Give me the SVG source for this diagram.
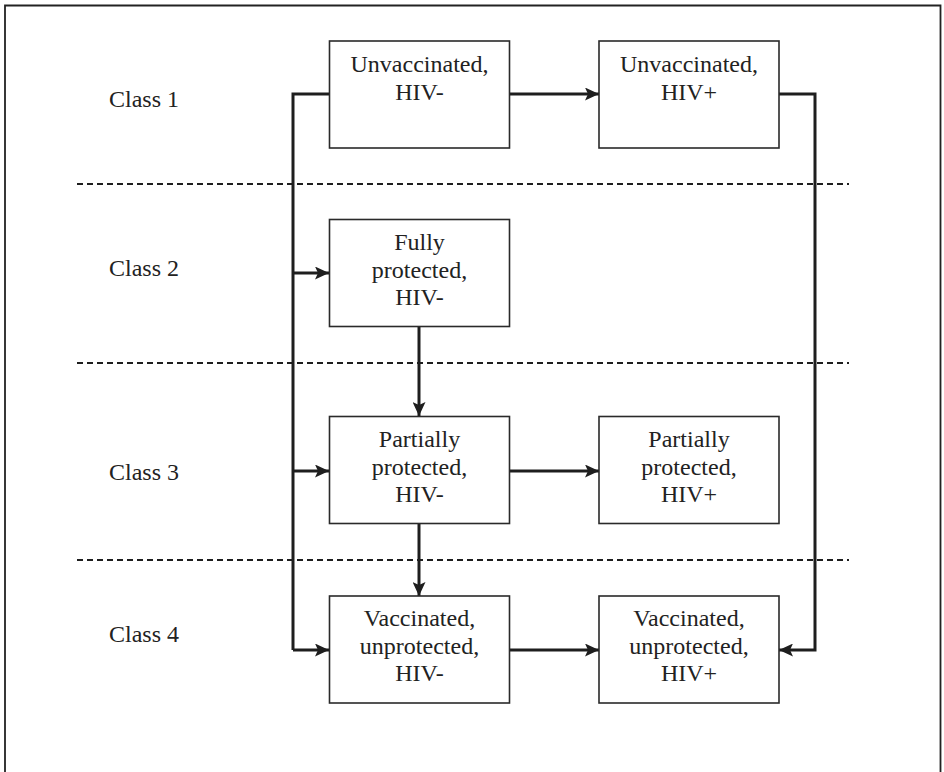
<svg xmlns="http://www.w3.org/2000/svg" width="944" height="772" viewBox="0 0 944 772">
<style>
.box{fill:#fff;stroke:#2a2a2a;stroke-width:1.6}
.t{font-family:"Liberation Serif","Times New Roman",serif;font-size:24px;fill:#222;text-anchor:middle}
.lbl{font-family:"Liberation Serif","Times New Roman",serif;font-size:24px;fill:#222}
.c{fill:none;stroke:#1e1e1e;stroke-width:3}
.d{fill:none;stroke:#1e1e1e;stroke-width:2;stroke-dasharray:6 4}
</style>
<defs>
<marker id="ah" markerUnits="userSpaceOnUse" markerWidth="14" markerHeight="13" viewBox="0 0 14 13" refX="14" refY="6.5" orient="auto">
<path d="M0,0 L14,6.5 L0,13 L3,6.5 z" fill="#1e1e1e"/>
</marker>
</defs>
<rect x="0" y="0" width="944" height="772" fill="#fff"/>
<path d="M5,780 V5.5 H940.5 V780" fill="none" stroke="#222" stroke-width="1.8"/>

<g id="dividers">
<line class="d" x1="77" y1="184" x2="849" y2="184"/>
<line class="d" x1="77" y1="363" x2="849" y2="363"/>
<line class="d" x1="77" y1="560" x2="849" y2="560"/>
</g>

<g id="class-labels">
<text class="lbl" x="109" y="107">Class 1</text>
<text class="lbl" x="109" y="276">Class 2</text>
<text class="lbl" x="109" y="480">Class 3</text>
<text class="lbl" x="109" y="642">Class 4</text>
</g>

<g id="connectors">
<path class="c" d="M329,94 H293 V650"/>
<path class="c" d="M293,273 H329" marker-end="url(#ah)"/>
<path class="c" d="M293,471 H329" marker-end="url(#ah)"/>
<path class="c" d="M293,650 H329" marker-end="url(#ah)"/>
<path class="c" d="M510,94 H599" marker-end="url(#ah)"/>
<path class="c" d="M779,94 H815 V650 H779" marker-end="url(#ah)"/>
<path class="c" d="M419,327 V416" marker-end="url(#ah)"/>
<path class="c" d="M419,524 V596" marker-end="url(#ah)"/>
<path class="c" d="M509,471 H599" marker-end="url(#ah)"/>
<path class="c" d="M509,650 H599" marker-end="url(#ah)"/>
</g>

<g id="unvacc-neg">
<rect class="box" x="329.5" y="41" width="180" height="107"/>
<text class="t" x="419.5" y="72">Unvaccinated,</text>
<text class="t" x="419.5" y="100">HIV-</text>
</g>
<g id="unvacc-pos">
<rect class="box" x="599" y="41" width="180" height="107"/>
<text class="t" x="689" y="72">Unvaccinated,</text>
<text class="t" x="689" y="100">HIV+</text>
</g>
<g id="fully-neg">
<rect class="box" x="329.5" y="219.5" width="180" height="107"/>
<text class="t" x="419.5" y="250">Fully</text>
<text class="t" x="419.5" y="278">protected,</text>
<text class="t" x="419.5" y="305">HIV-</text>
</g>
<g id="partial-neg">
<rect class="box" x="329.5" y="416.5" width="180" height="107"/>
<text class="t" x="419.5" y="447">Partially</text>
<text class="t" x="419.5" y="475">protected,</text>
<text class="t" x="419.5" y="502">HIV-</text>
</g>
<g id="partial-pos">
<rect class="box" x="599" y="416.5" width="180" height="107"/>
<text class="t" x="689" y="447">Partially</text>
<text class="t" x="689" y="475">protected,</text>
<text class="t" x="689" y="502">HIV+</text>
</g>
<g id="vacc-unprot-neg">
<rect class="box" x="329.5" y="596" width="180" height="107"/>
<text class="t" x="419.5" y="626">Vaccinated,</text>
<text class="t" x="419.5" y="654">unprotected,</text>
<text class="t" x="419.5" y="681">HIV-</text>
</g>
<g id="vacc-unprot-pos">
<rect class="box" x="599" y="596" width="180" height="107"/>
<text class="t" x="689" y="626">Vaccinated,</text>
<text class="t" x="689" y="654">unprotected,</text>
<text class="t" x="689" y="681">HIV+</text>
</g>
</svg>
